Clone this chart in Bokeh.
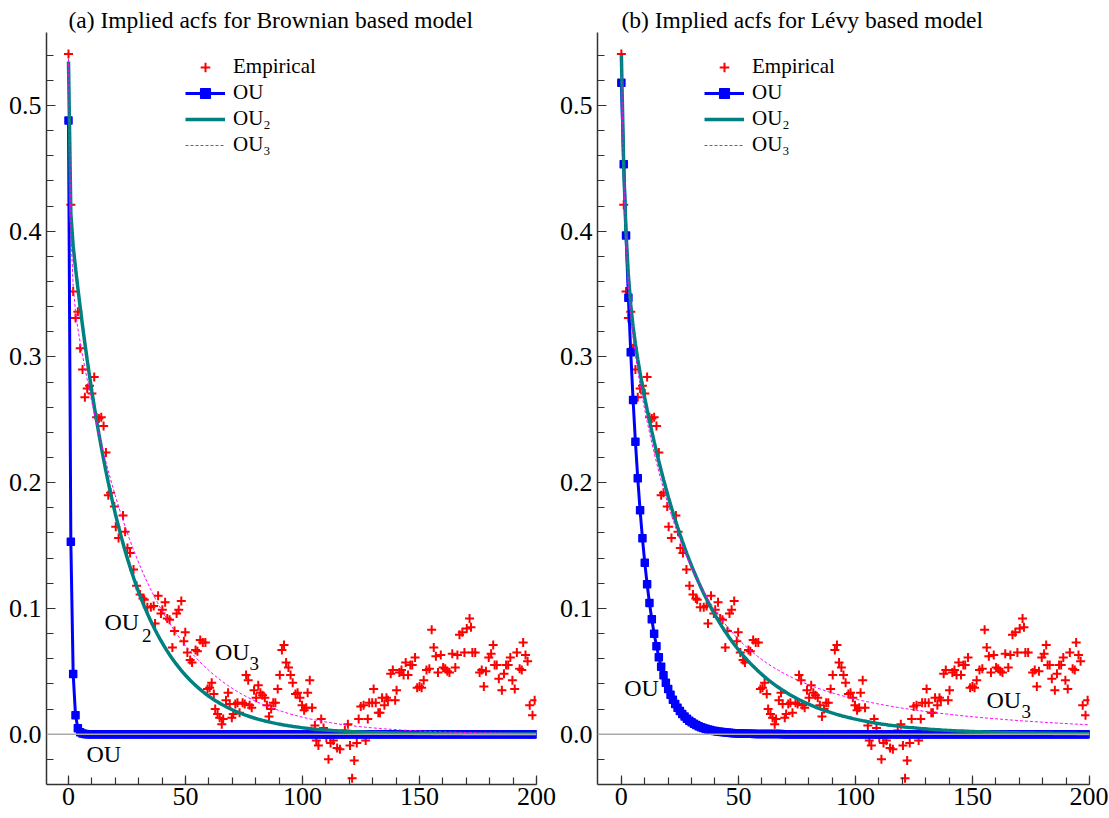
import numpy as np
from bokeh.plotting import figure
from bokeh.layouts import row
from bokeh.models import (ColumnDataSource, FixedTicker, PrintfTickFormatter, Span,
                          Legend, LegendItem, Range1d)
from bokeh.core.properties import value
from bokeh.embed import file_html
from bokeh.resources import INLINE

# ---------------- data ----------------
TITLES = ["(a) Implied acfs for Brownian based model",
          "(b) Implied acfs for Lévy based model"]

EMP_LAG = [0, 1, 2, 3, 4, 5, 6, 7, 8, 9, 10, 11, 12, 13, 14, 15, 16, 17, 18,
           19.6, 20.2, 21.4, 23.3, 24.2, 25.2, 26.3, 27.8, 29.1, 30.6,
           31.8, 32.4, 33.7, 35.2, 36.4, 37.0, 38.3, 39.5, 40.1, 41.3,
           42.2, 43.2, 44.4, 45.3, 46.2, 47.1, 48.2, 49.3, 49.9, 50.8,
           52.0, 52.8, 54.3, 55.1, 56.3, 57.4, 58.5, 59.4, 60.3, 61.2,
           62.1, 62.7, 63.7, 64.6, 65.5, 66.1, 67.3, 68.2, 68.9, 69.8,
           70.4, 71.3, 72.2, 73.1, 74.4, 75.3, 75.9, 76.8, 77.4, 78.3,
           79.3, 80.2, 81.1, 82.0, 82.9, 83.9, 84.8, 85.7, 86.6, 87.5,
           88.4, 89.4, 90.3, 91.2, 92.1, 93.0, 94.0, 94.9, 95.8, 97.0,
           97.9, 98.9, 99.8, 100.7, 101.6, 102.2, 103.1, 104.1, 105.3, 105.9,
           106.8, 108.0, 109.0, 110.2, 111.1, 112.0, 113.2, 114.8, 116.0, 117.5,
           118.1, 119.4, 120.3, 121.2, 122.1, 123.2, 124.0, 124.9, 126.1, 127.0,
           127.9, 128.5, 129.8, 130.4, 131.3, 132.4, 133.1, 134.0, 135.0, 135.9,
           136.5, 137.7, 138.6, 139.6, 140.2, 141.4, 142.3, 143.2, 144.1, 145.1,
           146.1, 146.9, 148.1, 149.0, 150.0, 150.9, 151.8, 153.0, 154.2, 155.2,
           156.1, 157.0, 157.9, 159.1, 160.1, 161.0, 161.9, 162.8, 164.0, 165.3,
           166.2, 167.1, 168.3, 169.2, 170.2, 171.4, 172.0, 172.6, 173.8, 175.7,
           176.6, 177.5, 178.4, 179.6, 180.6, 181.5, 182.1, 183.0, 183.9, 185.2,
           186.1, 187.0, 187.9, 188.8, 189.7, 190.7, 191.6, 192.8, 193.7, 194.3,
           195.3, 196.2, 197.1, 198.3, 199.2]

EMP_ACF = [0.541, 0.421, 0.352, 0.331, 0.336, 0.307, 0.290, 0.268, 0.275, 0.277,
           0.271, 0.284, 0.252, 0.251, 0.252, 0.245, 0.224, 0.190, 0.192,
           0.181, 0.165, 0.156, 0.174, 0.161, 0.148, 0.144, 0.131, 0.118, 0.111,
           0.108, 0.107, 0.101, 0.101, 0.102, 0.088, 0.110, 0.096, 0.099, 0.105,
           0.092, 0.091, 0.069, 0.082, 0.096, 0.099, 0.106, 0.074, 0.081, 0.065,
           0.059, 0.057, 0.067, 0.066, 0.075, 0.073, 0.073, 0.036, 0.037, 0.041,
           0.032, 0.020, 0.016, 0.013, 0.008, 0.012, 0.027, 0.033, 0.024, 0.013,
           0.016, 0.024, 0.025, 0.017, 0.025, 0.024, 0.047, 0.043, 0.023, 0.021,
           0.035, 0.029, 0.039, 0.033, 0.031, 0.029, 0.023, 0.014, 0.020, 0.025,
           0.025, 0.036, 0.047, 0.067, 0.071, 0.057, 0.053, 0.047, 0.041, 0.032,
           0.033, 0.029, 0.023, 0.019, 0.021, 0.033, 0.043, 0.021, 0.007, -0.005,
           -0.009, 0.012, 0.005, -0.003, -0.020, -0.007, -0.005, -0.011, -0.012, 0.000,
           0.003, 0.008, -0.009, -0.035, -0.021, -0.007, 0.012, 0.022, 0.023, -0.005,
           0.012, 0.025, 0.025, 0.036, 0.025, 0.017, 0.017, 0.029, 0.023, 0.029,
           0.027, 0.048, 0.051, 0.027, 0.035, 0.049, 0.051, 0.047, 0.057, 0.047,
           0.055, 0.055, 0.061, 0.037, 0.038, 0.037, 0.043, 0.051, 0.052, 0.083,
           0.069, 0.062, 0.049, 0.063, 0.053, 0.052, 0.050, 0.049, 0.064, 0.053,
           0.063, 0.079, 0.081, 0.065, 0.084, 0.092, 0.085, 0.065, 0.065, 0.049,
           0.051, 0.038, 0.050, 0.061, 0.064, 0.071, 0.055, 0.055, 0.044, 0.035,
           0.048, 0.055, 0.055, 0.061, 0.043, 0.036, 0.065, 0.052, 0.051, 0.073,
           0.063, 0.058, 0.023, 0.015, 0.027]

# fitted model acfs (weights, decay rates)
OU_A_W, OU_A_R = [0.488], [1.16]
OU2_A_W, OU2_A_R = [0.112, 0.423], [2.5, 0.044]
OU3_A_W, OU3_A_R = [0.17, 0.367], [1.3, 0.033]
OU_B_W, OU_B_R = [0.518], [0.1335]
OU2_B_W, OU2_B_R = [0.163, 0.377], [0.63, 0.0345]
OU3_B_W, OU3_B_R = [0.163, 0.29, 0.082], [0.63, 0.045, 0.012]

MAX_LAG = 200
X_TICKS = [0, 50, 100, 150, 200]
Y_TICKS = [0.0, 0.1, 0.2, 0.3, 0.4, 0.5]

# in-plot annotation labels: (text, lag, value, subscript, sub lag, sub value)
LABELS_A = [("OU", 15.4, 0.089, "2", 31.4, 0.0785),
            ("OU", 62.6, 0.065, "3", 77.4, 0.056),
            ("OU", 7.7, -0.016, "", 0, 0)]
LABELS_B = [("OU", 1.2, 0.037, "", 0, 0),
            ("OU", 156.0, 0.027, "3", 171.0, 0.018)]

SERIF = "Liberation Serif"


def acf(weights, rates, lags):
    lags = np.asarray(lags, dtype=float)
    return sum(w * np.exp(-r * lags) for w, r in zip(weights, rates))


def make_panel(title, x_start, width, bl, br, ou, ou2, ou3, labels, legend_x, title_off):
    p = figure(width=width, height=816, output_backend="svg", toolbar_location=None,
               x_range=Range1d(x_start, MAX_LAG), y_range=Range1d(-0.04, 0.558),
               min_border_left=bl, min_border_right=br, min_border_top=32,
               min_border_bottom=32)
    p.title.text = title
    p.title.text_font = SERIF
    p.title.text_font_size = "23.5px"
    p.title.text_font_style = "normal"
    p.title.text_color = "black"
    p.title.align = "left"
    p.title.offset = title_off
    p.title.standoff = 0
    p.outline_line_color = None
    p.xgrid.visible = False
    p.ygrid.visible = False
    p.background_fill_color = "white"

    for ax in (p.xaxis[0], p.yaxis[0]):
        ax.axis_line_color = "#333333"
        ax.axis_line_width = 1.5
        ax.major_tick_line_color = "#333333"
        ax.minor_tick_line_color = "#333333"
        ax.major_tick_line_width = 1.2
        ax.minor_tick_line_width = 1.2
        ax.major_tick_in = 9
        ax.major_tick_out = 0
        ax.minor_tick_in = 7
        ax.minor_tick_out = 0
        ax.major_label_text_font = SERIF
        ax.major_label_text_font_size = "26px"
        ax.major_label_text_color = "black"
    p.xaxis.ticker = FixedTicker(ticks=X_TICKS, minor_ticks=list(np.arange(0, 201, 10)))
    p.yaxis.ticker = FixedTicker(ticks=Y_TICKS,
                                 minor_ticks=[round(v, 2) for v in np.arange(-0.02, 0.56, 0.02)])
    p.yaxis.formatter = PrintfTickFormatter(format="%.1f")
    p.xaxis.major_label_standoff = 3
    p.yaxis.major_label_standoff = 5

    p.add_layout(Span(location=0, dimension="width", line_color="#aaaaaa", line_width=1.5))

    lags = np.arange(0, MAX_LAG + 1)
    emp = p.scatter(EMP_LAG, EMP_ACF, marker="cross", size=9, line_width=2, color="#ff0000")
    src_ou = ColumnDataSource(dict(x=lags, y=acf(*ou, lags)))
    ou_l = p.line("x", "y", source=src_ou, line_color="#0000ff", line_width=3)
    ou_m = p.scatter("x", "y", source=src_ou, marker="square", size=7, line_width=1.5,
                     line_join="round", color="#0000ff")
    ou2_l = p.line(lags, acf(*ou2, lags), line_color="#008080", line_width=3.5)
    ou3_l = p.line(lags, acf(*ou3, lags), line_color="#ff00ff", line_width=1,
                   line_dash="3 2")

    for txt, lx, ly, sub, sx, sy in labels:
        p.text([lx], [ly], text=[txt], text_font=value(SERIF), text_font_size="24px",
               text_baseline="alphabetic", text_align="left", text_color="black")
        if sub:
            p.text([sx], [sy], text=[sub], text_font=value(SERIF), text_font_size="19px",
                   text_baseline="alphabetic", text_align="left", text_color="black")

    legend = Legend(items=[LegendItem(label="Empirical", renderers=[emp]),
                           LegendItem(label="OU", renderers=[ou_l, ou_m]),
                           LegendItem(label="OU\u2082", renderers=[ou2_l]),
                           LegendItem(label="OU\u2083", renderers=[ou3_l])],
                    location=(legend_x, 627), padding=0, margin=0, spacing=1,
                    background_fill_alpha=0, border_line_alpha=0,
                    label_text_font=SERIF, label_text_font_size="21px",
                    label_text_color="black",
                    glyph_width=40, glyph_height=24, label_height=24, label_standoff=8)
    p.add_layout(legend)
    return p


pa = make_panel(TITLES[0], -9.4, 556, 46, 20, (OU_A_W, OU_A_R), (OU2_A_W, OU2_A_R),
                (OU3_A_W, OU3_A_R), LABELS_A, 139, 22)
pb = make_panel(TITLES[1], -10.2, 552, 41, 19, (OU_B_W, OU_B_R), (OU2_B_W, OU2_B_R),
                (OU3_B_W, OU3_B_R), LABELS_B, 107, 24)

layout = row(pa, pb)
open("out.html", "w").write(file_html(layout, INLINE))
